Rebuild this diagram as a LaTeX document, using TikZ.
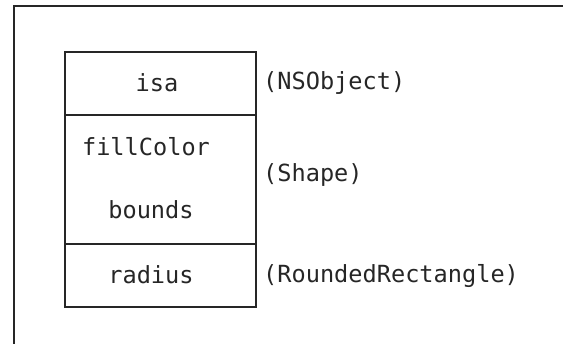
\documentclass[tikz,border=0pt]{standalone}
\usepackage{fontspec}
\setmonofont{DejaVu Sans Mono}
\begin{document}
\begin{tikzpicture}[x=1pt,y=-1pt,
  cell/.style={draw=black!85, line width=2pt, rectangle, minimum width=191pt, inner sep=0pt, anchor=north west},
  txt/.style={font=\ttfamily\fontsize{23.6}{28}\selectfont, text=black!85, inner sep=0pt},
  lbl/.style={txt, anchor=west}]
\useasboundingbox (0,0) rectangle (563,344);
\draw[black!85, line width=2pt] (13.5,344) -- (13.5,6) -- (563,6);
\node[cell, minimum height=63pt] (isabox) at (64,51) {};
\node[cell, minimum height=129pt] (shapebox) at (64,114) {};
\node[cell, minimum height=63pt] (radbox) at (64,243) {};
\node[txt] (isa) at (157,83) {isa};
\node[txt] (fill) at (146,147) {fillColor};
\node[txt] (bounds) at (151,210) {bounds};
\node[txt] (radius) at (151,275) {radius};
\node[lbl] (l1) at (263,83) {(NSObject)};
\node[lbl] (l2) at (263,175) {(Shape)};
\node[lbl] (l3) at (263,276) {(RoundedRectangle)};
\end{tikzpicture}
\end{document}
